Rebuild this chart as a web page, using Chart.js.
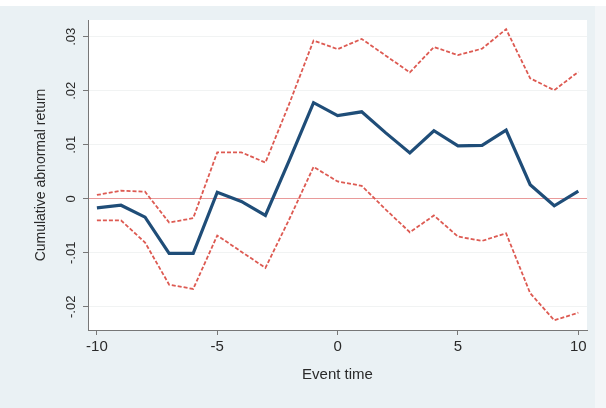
<!DOCTYPE html>
<html>
<head>
<meta charset="utf-8">
<script src="https://cdn.jsdelivr.net/npm/chart.js@4.4.1/dist/chart.umd.min.js"></script>
<style>
  html, body { margin: 0; padding: 0; background: #ffffff; }
  #wrap { width: 606px; height: 408px; position: relative; }
</style>
</head>
<body>
<div id="wrap"><canvas id="c" width="606" height="408"></canvas></div>
<script>
// Event window (days relative to the event)
const eventTime = [-10, -9, -8, -7, -6, -5, -4, -3, -2, -1, 0, 1, 2, 3, 4, 5, 6, 7, 8, 9, 10];

// Cumulative abnormal return and its confidence band
const car = [-0.0017, -0.0012, -0.0034, -0.0101, -0.0101, 0.0012, -0.0005, -0.0031, 0.0072, 0.0178,
             0.0154, 0.0161, 0.0122, 0.0085, 0.0126, 0.0098, 0.0099, 0.0127, 0.0026, -0.0013, 0.0014];
const upperBand = [0.0007, 0.0015, 0.0013, -0.0044, -0.0036, 0.0086, 0.0086, 0.0067, 0.0177, 0.0293,
                   0.0277, 0.0296, 0.0265, 0.0234, 0.0281, 0.0266, 0.0278, 0.0314, 0.0223, 0.0201, 0.0235];
const lowerBand = [-0.0040, -0.0040, -0.0081, -0.0159, -0.0167, -0.0068, -0.0098, -0.0128, -0.0037, 0.0059,
                   0.0032, 0.0024, -0.0020, -0.0062, -0.0031, -0.0070, -0.0078, -0.0064, -0.0175, -0.0225, -0.0211];

// Axis ticks
const xTicks = [-10, -5, 0, 5, 10];
const yTicks = [-0.02, -0.01, 0, 0.01, 0.02, 0.03];
const yTickLabels = ['-.02', '-.01', '0', '.01', '.02', '.03'];

const toPoints = arr => arr.map((v, i) => ({ x: eventTime[i], y: v }));

// Page background, outer frame and white plot region
const backdrop = {
  id: 'backdrop',
  beforeDraw(chart) {
    const { ctx, chartArea: a, width, height } = chart;
    ctx.save();
    ctx.fillStyle = '#ffffff';
    ctx.fillRect(0, 0, width, height);
    ctx.fillStyle = '#eaf1f4';
    ctx.fillRect(0, 6, 595, height - 6);
    ctx.fillStyle = '#f3f6f8';
    ctx.fillRect(595, 6, width - 595, height - 6);
    ctx.fillStyle = '#ffffff';
    ctx.fillRect(a.left, a.top, a.right - a.left, a.bottom - a.top);
    ctx.restore();
  }
};

const axisFont = 'Liberation Sans, Arial, Helvetica, sans-serif';

new Chart(document.getElementById('c'), {
  type: 'line',
  data: {
    datasets: [
      {
        label: 'Upper',
        data: toPoints(upperBand),
        borderColor: '#dd5a52',
        borderWidth: 1.8,
        borderDash: [4, 2],
        pointRadius: 0,
        tension: 0,
        fill: false
      },
      {
        label: 'Lower',
        data: toPoints(lowerBand),
        borderColor: '#dd5a52',
        borderWidth: 1.8,
        borderDash: [4, 2],
        pointRadius: 0,
        tension: 0,
        fill: false
      },
      {
        label: 'CAR',
        data: toPoints(car),
        borderColor: '#1f4d78',
        borderWidth: 3.2,
        pointRadius: 0,
        tension: 0,
        borderJoinStyle: 'miter',
        fill: false
      }
    ]
  },
  options: {
    responsive: false,
    animation: false,
    devicePixelRatio: 1,
    layout: { padding: { left: 0, top: 20, right: 19, bottom: 0 } },
    plugins: {
      legend: { display: false },
      tooltip: { enabled: false }
    },
    scales: {
      x: {
        type: 'linear',
        min: -10.37,
        max: 10.36,
        afterBuildTicks: s => { s.ticks = xTicks.map(v => ({ value: v })); },
        afterFit: s => { s.height = 78; },
        grid: { drawOnChartArea: false, tickLength: 5, tickColor: '#777', tickWidth: 1 },
        border: { color: '#777', width: 1 },
        ticks: {
          padding: 3,
          color: '#2a2a2a',
          font: { family: axisFont, size: 15 },
          maxRotation: 0,
          callback: v => String(v)
        },
        title: {
          display: true,
          text: 'Event time',
          color: '#2a2a2a',
          font: { family: axisFont, size: 15 },
          padding: { top: 0, bottom: 24 }
        }
      },
      y: {
        type: 'linear',
        min: -0.0243,
        max: 0.0331,
        afterBuildTicks: s => { s.ticks = yTicks.map(v => ({ value: v })); },
        afterFit: s => { s.width = 88; },
        grid: {
          tickLength: 5,
          tickColor: '#777',
          lineWidth: 1,
          color: c => (c.tick && Math.abs(c.tick.value) < 1e-9) ? 'rgba(226,120,120,0.75)' : '#f1f3f3'
        },
        border: { color: '#777', width: 1 },
        ticks: {
          minRotation: 90,
          maxRotation: 90,
          crossAlign: 'center',
          padding: 0,
          color: '#2a2a2a',
          font: { family: axisFont, size: 13 },
          callback: (v, i) => yTickLabels[i]
        },
        title: {
          display: true,
          text: 'Cumulative abnormal return',
          color: '#2a2a2a',
          font: { family: axisFont, size: 14 },
          padding: { top: 33, bottom: 0 }
        }
      }
    }
  },
  plugins: [backdrop]
});
</script>
</body>
</html>
